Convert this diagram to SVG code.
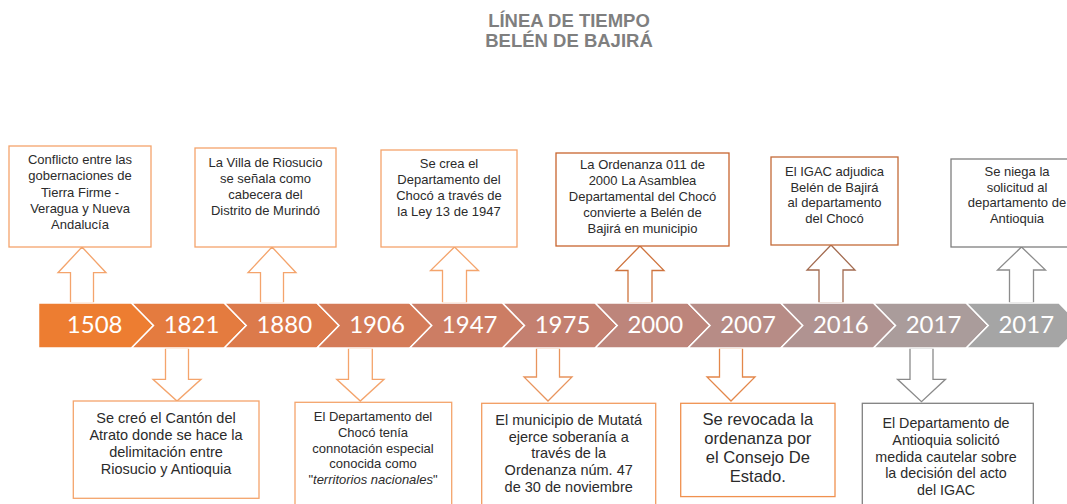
<svg xmlns="http://www.w3.org/2000/svg" width="1067" height="504" viewBox="0 0 1067 504">
<style>
.t{font-family:"Liberation Sans",Arial,sans-serif;fill:#2b2b2b;text-anchor:middle}
.s13{font-size:13px}
.s14{font-size:14.5px}
.s16{font-size:16.6px}
.box{fill:#fff;stroke-width:1.3}
.arr{fill:#fff;stroke-width:1.3}
.seg{stroke:#fff;stroke-width:1.5}
.yr{font-family:Lato,"Liberation Sans",sans-serif;font-size:24px;fill:#fff;text-anchor:middle}
.title{font-family:"Liberation Sans",Arial,sans-serif;font-weight:bold;font-size:18.5px;fill:#7f7f7f;text-anchor:middle}
.lo{stroke:#F4A46C}
</style>
<rect width="1067" height="504" fill="#fff"/>
<g id="title">
<text class="title" x="569" y="26.7">LÍNEA DE TIEMPO</text>
<text class="title" x="569" y="46.7">BELÉN DE BAJIRÁ</text>
</g>
<g id="connectors">
<path class="arr lo" d="M82,247 L106,272.7 L93.5,272.7 L93.5,303 L70.5,303 L70.5,272.7 L58,272.7 Z"/>
<path class="arr lo" d="M272,247 L296,272.7 L283.5,272.7 L283.5,303 L260.5,303 L260.5,272.7 L248,272.7 Z"/>
<path class="arr lo" d="M454.5,247 L478.5,270.5 L466.5,270.5 L466.5,303 L442.5,303 L442.5,270.5 L430.5,270.5 Z"/>
<path class="arr" stroke="#CF743E" d="M640,246 L664,270.5 L652,270.5 L652,303 L628,303 L628,270.5 L616,270.5 Z"/>
<path class="arr" stroke="#A36B50" d="M831,245 L855,270 L843,270 L843,303 L819,303 L819,270 L807,270 Z"/>
<path class="arr" stroke="#8C8C8C" d="M1021.5,247 L1045.5,270 L1033.5,270 L1033.5,303 L1009.5,303 L1009.5,270 L997.5,270 Z"/>
<path class="arr lo" d="M165.5,348 L188.5,348 L188.5,379.3 L201,379.3 L177,401 L153,379.3 L165.5,379.3 Z"/>
<path class="arr lo" d="M348.5,348 L372.3,348 L372.3,379.3 L384,379.3 L360.3,401 L336.7,379.3 L348.5,379.3 Z"/>
<path class="arr" stroke="#E8945D" d="M536.5,348 L559.5,348 L559.5,377 L572,377 L548,401 L524,377 L536.5,377 Z"/>
<path class="arr" stroke="#E3874A" d="M719.5,348 L742.5,348 L742.5,377 L755,377 L731,401 L707,377 L719.5,377 Z"/>
<path class="arr" stroke="#8A8A8A" d="M910,348 L933,348 L933,379.3 L945.5,379.3 L921.5,401.7 L897.5,379.3 L910,379.3 Z"/>
</g>
<g id="timeline">
<path class="seg" fill="#ED7D31" d="M38.5,303 H131.5 L153.5,325.5 L131.5,348 H38.5 Z"/>
<path class="seg" fill="#E47B3F" d="M131.5,303 H224.25 L246.25,325.5 L224.25,348 H131.5 L153.5,325.5 Z"/>
<path class="seg" fill="#DC7A4B" d="M224.25,303 H317 L339,325.5 L317,348 H224.25 L246.25,325.5 Z"/>
<path class="seg" fill="#D47B58" d="M317,303 H409.75 L431.75,325.5 L409.75,348 H317 L339,325.5 Z"/>
<path class="seg" fill="#CC7D64" d="M409.75,303 H502.5 L524.5,325.5 L502.5,348 H409.75 L431.75,325.5 Z"/>
<path class="seg" fill="#C48070" d="M502.5,303 H595.25 L617.25,325.5 L595.25,348 H502.5 L524.5,325.5 Z"/>
<path class="seg" fill="#BD857B" d="M595.25,303 H688 L710,325.5 L688,348 H595.25 L617.25,325.5 Z"/>
<path class="seg" fill="#B78C86" d="M688,303 H780.75 L802.75,325.5 L780.75,348 H688 L710,325.5 Z"/>
<path class="seg" fill="#B09391" d="M780.75,303 H873.5 L895.5,325.5 L873.5,348 H780.75 L802.75,325.5 Z"/>
<path class="seg" fill="#AA9C9B" d="M873.5,303 H966.25 L988.25,325.5 L966.25,348 H873.5 L895.5,325.5 Z"/>
<path class="seg" fill="#A5A5A5" d="M966.25,303 H1059 L1081,325.5 L1059,348 H966.25 L988.25,325.5 Z"/>
<text class="yr" x="94.7" y="333">1508</text>
<text class="yr" x="191.5" y="333">1821</text>
<text class="yr" x="284.3" y="333">1880</text>
<text class="yr" x="377" y="333">1906</text>
<text class="yr" x="469.7" y="333">1947</text>
<text class="yr" x="562.5" y="333">1975</text>
<text class="yr" x="655.3" y="333">2000</text>
<text class="yr" x="748" y="333">2007</text>
<text class="yr" x="840.8" y="333">2016</text>
<text class="yr" x="933.5" y="333">2017</text>
<text class="yr" x="1026.3" y="333">2017</text>
</g>
<g id="n1508">
<rect class="box lo" x="9" y="146" width="142" height="101"/>
<text class="t s13"><tspan x="80" y="164">Conflicto entre las</tspan><tspan x="80" y="180.3">gobernaciones de</tspan><tspan x="80" y="196.5">Tierra Firme -</tspan><tspan x="80" y="212.5">Veragua y Nueva</tspan><tspan x="80" y="228.5">Andalucía</tspan></text>
</g>
<g id="n1880">
<rect class="box lo" x="195" y="148" width="141" height="99"/>
<text class="t s13"><tspan x="265.5" y="166.7">La Villa de Riosucio</tspan><tspan x="265.5" y="183">se señala como</tspan><tspan x="265.5" y="199">cabecera del</tspan><tspan x="265.5" y="215">Distrito de Murindó</tspan></text>
</g>
<g id="n1947">
<rect class="box lo" x="381" y="150" width="136" height="97"/>
<text class="t s13"><tspan x="449" y="167.7">Se crea el</tspan><tspan x="449" y="184">Departamento del</tspan><tspan x="449" y="200">Chocó a través de</tspan><tspan x="449" y="216">la Ley 13 de 1947</tspan></text>
</g>
<g id="n2000">
<rect class="box" stroke="#C8652E" x="556" y="153" width="173" height="93"/>
<text class="t s13"><tspan x="642.5" y="169.3">La Ordenanza 011 de</tspan><tspan x="642.5" y="185.3">2000 La Asamblea</tspan><tspan x="642.5" y="201.3">Departamental del Chocó</tspan><tspan x="642.5" y="217.3">convierte a Belén de</tspan><tspan x="642.5" y="233.3">Bajirá en municipio</tspan></text>
</g>
<g id="n2016">
<rect class="box" stroke="#C46A38" x="771" y="157" width="127" height="88"/>
<text class="t s13"><tspan x="834.5" y="176">El IGAC adjudica</tspan><tspan x="834.5" y="191.7">Belén de Bajirá</tspan><tspan x="834.5" y="207.3">al departamento</tspan><tspan x="834.5" y="223">del Chocó</tspan></text>
</g>
<g id="n2017a">
<rect class="box" stroke="#7F7F7F" x="951" y="159" width="130" height="88"/>
<text class="t s13"><tspan x="1017" y="176">Se niega la</tspan><tspan x="1017" y="191.7">solicitud al</tspan><tspan x="1017" y="207.3">departamento de</tspan><tspan x="1017" y="223.3">Antioquia</tspan></text>
</g>
<g id="n1821">
<rect class="box lo" x="73.3" y="401" width="185.7" height="97.3"/>
<text class="t s14"><tspan x="166" y="423.3">Se creó el Cantón del</tspan><tspan x="166" y="440">Atrato donde se hace la</tspan><tspan x="166" y="456.7">delimitación entre</tspan><tspan x="166" y="473.5">Riosucio y Antioquia</tspan></text>
</g>
<g id="n1906">
<rect class="box lo" x="295" y="402.3" width="156.7" height="110"/>
<text class="t s13"><tspan x="373" y="420.8">El Departamento del</tspan><tspan x="373" y="436.7">Chocó tenía</tspan><tspan x="373" y="452.6">connotación especial</tspan><tspan x="373" y="468.4">conocida como</tspan><tspan x="373" y="484.2">"<tspan font-style="italic">territorios nacionales</tspan>"</tspan></text>
</g>
<g id="n1975">
<rect class="box" stroke="#F29C60" x="481.7" y="403.3" width="174" height="110"/>
<text class="t s14"><tspan x="568.7" y="425">El municipio de Mutatá</tspan><tspan x="568.7" y="441.7">ejerce soberanía a</tspan><tspan x="568.7" y="458.3">través de la</tspan><tspan x="568.7" y="475">Ordenanza núm. 47</tspan><tspan x="568.7" y="491.7">de 30 de noviembre</tspan></text>
</g>
<g id="n2007">
<rect class="box" stroke="#F0914F" x="680.7" y="403.3" width="154.3" height="93.3"/>
<text class="t s16"><tspan x="757.8" y="425">Se revocada la</tspan><tspan x="757.8" y="444">ordenanza por</tspan><tspan x="757.8" y="462.8">el Consejo De</tspan><tspan x="757.8" y="481.7">Estado.</tspan></text>
</g>
<g id="n2017b">
<rect class="box" stroke="#808080" x="862.3" y="403.3" width="171" height="110"/>
<text class="t" font-size="14.3"><tspan x="946" y="428.3">El Departamento de</tspan><tspan x="946" y="445">Antioquia solicitó</tspan><tspan x="946" y="461.7">medida cautelar sobre</tspan><tspan x="946" y="478.3">la decisión del acto</tspan><tspan x="946" y="495.3">del IGAC</tspan></text>
</g>
</svg>
